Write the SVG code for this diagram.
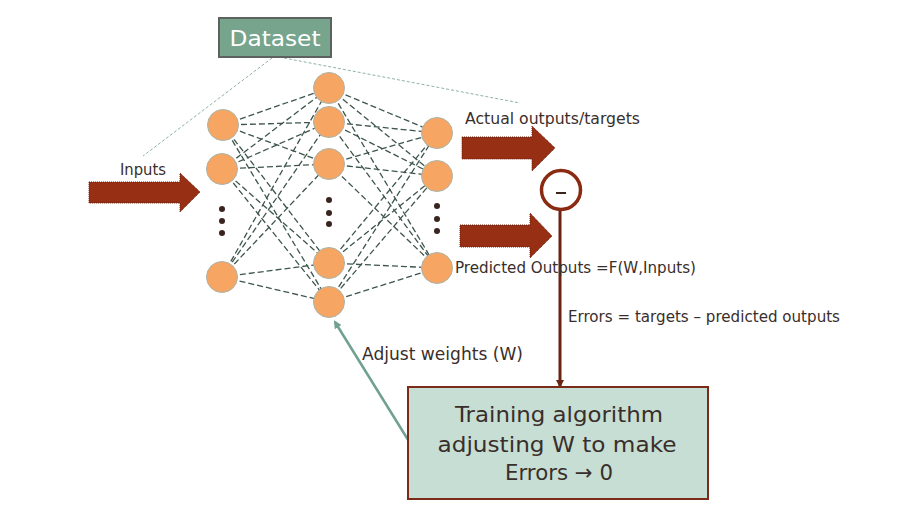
<svg xmlns="http://www.w3.org/2000/svg" width="906" height="516" viewBox="0 0 906 516">
<defs>
<style>
.t{font-family:"DejaVu Sans","Liberation Sans",sans-serif;fill:#3a2e2b;}
.n{fill:#f7a562;stroke:#a9b5ab;stroke-width:1;}
.c{stroke:#3d554c;stroke-width:1.3;stroke-dasharray:6 3;fill:none;}
.ds{stroke:#8fb2a6;stroke-width:1;stroke-dasharray:3 2;fill:none;}
.bigarrow{fill:#962f14;stroke:#6b1e0c;stroke-width:1;stroke-dasharray:1 1;}
.dot{fill:#3a2420;}
</style>
<marker id="ga" markerWidth="8" markerHeight="8" refX="6" refY="4" orient="auto" markerUnits="userSpaceOnUse">
<path d="M0,0 L8,4 L0,8 Z" fill="#6fa090"/>
</marker>
<marker id="ra" markerWidth="8" markerHeight="8" refX="6" refY="4" orient="auto" markerUnits="userSpaceOnUse">
<path d="M0,0 L8,4 L0,8 Z" fill="#6b2412"/>
</marker>
</defs>
<rect width="906" height="516" fill="#ffffff"/>

<g id="connectors">
<line class="ds" x1="272" y1="58" x2="143" y2="156"/>
<line class="ds" x1="284" y1="58" x2="520" y2="103"/>
<line class="c" x1="223" y1="125" x2="329" y2="88"/>
<line class="c" x1="223" y1="125" x2="329" y2="122"/>
<line class="c" x1="223" y1="125" x2="329" y2="164"/>
<line class="c" x1="223" y1="125" x2="329" y2="263"/>
<line class="c" x1="223" y1="125" x2="329" y2="302"/>
<line class="c" x1="222" y1="169" x2="329" y2="88"/>
<line class="c" x1="222" y1="169" x2="329" y2="122"/>
<line class="c" x1="222" y1="169" x2="329" y2="164"/>
<line class="c" x1="222" y1="169" x2="329" y2="263"/>
<line class="c" x1="222" y1="169" x2="329" y2="302"/>
<line class="c" x1="222" y1="277" x2="329" y2="88"/>
<line class="c" x1="222" y1="277" x2="329" y2="122"/>
<line class="c" x1="222" y1="277" x2="329" y2="164"/>
<line class="c" x1="222" y1="277" x2="329" y2="263"/>
<line class="c" x1="222" y1="277" x2="329" y2="302"/>
<line class="c" x1="329" y1="88" x2="437" y2="133"/>
<line class="c" x1="329" y1="88" x2="437" y2="176"/>
<line class="c" x1="329" y1="88" x2="437" y2="268"/>
<line class="c" x1="329" y1="122" x2="437" y2="133"/>
<line class="c" x1="329" y1="122" x2="437" y2="176"/>
<line class="c" x1="329" y1="122" x2="437" y2="268"/>
<line class="c" x1="329" y1="164" x2="437" y2="133"/>
<line class="c" x1="329" y1="164" x2="437" y2="176"/>
<line class="c" x1="329" y1="164" x2="437" y2="268"/>
<line class="c" x1="329" y1="263" x2="437" y2="133"/>
<line class="c" x1="329" y1="263" x2="437" y2="176"/>
<line class="c" x1="329" y1="263" x2="437" y2="268"/>
<line class="c" x1="329" y1="302" x2="437" y2="133"/>
<line class="c" x1="329" y1="302" x2="437" y2="176"/>
<line class="c" x1="329" y1="302" x2="437" y2="268"/>
<line x1="410" y1="443" x2="335" y2="322" stroke="#6fa090" stroke-width="2.5" marker-end="url(#ga)"/>
<line x1="560" y1="210" x2="560" y2="386" stroke="#6b2412" stroke-width="3" marker-end="url(#ra)"/>
</g>

<g id="dataset">
<rect x="219" y="18" width="112" height="39" fill="#76a48c" stroke="#5e625f" stroke-width="2"/>
<text x="275" y="46" text-anchor="middle" font-family="DejaVu Sans, sans-serif" font-size="21" fill="#ffffff" textLength="91" lengthAdjust="spacingAndGlyphs">Dataset</text>
</g>

<g id="input-layer">
<circle class="n" cx="223" cy="125" r="15.5"/>
<circle class="n" cx="222" cy="169" r="15.5"/>
<circle class="dot" cx="222" cy="209" r="3"/>
<circle class="dot" cx="222" cy="221" r="3"/>
<circle class="dot" cx="222" cy="233" r="3"/>
<circle class="n" cx="222" cy="277" r="15.5"/>
</g>

<g id="hidden-layer">
<circle class="n" cx="329" cy="88" r="15.5"/>
<circle class="n" cx="329" cy="122" r="15.5"/>
<circle class="n" cx="329" cy="164" r="15.5"/>
<circle class="dot" cx="329" cy="200" r="3"/>
<circle class="dot" cx="329" cy="213" r="3"/>
<circle class="dot" cx="329" cy="224" r="3"/>
<circle class="n" cx="329" cy="263" r="15.5"/>
<circle class="n" cx="329" cy="302" r="15.5"/>
</g>

<g id="output-layer">
<circle class="n" cx="437" cy="133" r="15.5"/>
<circle class="n" cx="437" cy="176" r="15.5"/>
<circle class="dot" cx="437" cy="206" r="3"/>
<circle class="dot" cx="437" cy="219" r="3"/>
<circle class="dot" cx="437" cy="231" r="3"/>
<circle class="n" cx="437" cy="268" r="15.5"/>
</g>

<g id="inputs-arrow">
<path class="bigarrow" d="M89,182 L180,182 L180,173 L200,192 L180,212 L180,203 L89,203 Z"/>
<text class="t" x="120" y="175" font-size="16" textLength="46" lengthAdjust="spacingAndGlyphs">Inputs</text>
</g>

<g id="actual-arrow">
<path class="bigarrow" d="M462,137 L532,137 L532,126 L555,148 L532,171 L532,159 L462,159 Z"/>
<text class="t" x="465" y="124" font-size="15.5" textLength="175" lengthAdjust="spacingAndGlyphs">Actual outputs/targets</text>
</g>

<g id="predicted-arrow">
<path class="bigarrow" d="M460,225 L530,225 L530,213 L552,236 L530,258 L530,247 L460,247 Z"/>
<text class="t" x="455" y="273" font-size="15.5" textLength="241" lengthAdjust="spacingAndGlyphs">Predicted Outputs =F(W,Inputs)</text>
</g>

<g id="minus">
<circle cx="561" cy="190" r="19.5" fill="#ffffff" stroke="#8a2a12" stroke-width="3.5"/>
<line x1="556" y1="193" x2="566" y2="193" stroke="#3a2420" stroke-width="2"/>
</g>

<g id="errors-label">
<text class="t" x="568" y="322" font-size="15.5" textLength="272" lengthAdjust="spacingAndGlyphs">Errors = targets – predicted outputs</text>
</g>

<g id="adjust-label">
<text class="t" x="362" y="360" font-size="17" textLength="161" lengthAdjust="spacingAndGlyphs">Adjust weights (W)</text>
</g>

<g id="training">
<rect x="408" y="387" width="300" height="112" fill="#c6ded4" stroke="#7a2b1a" stroke-width="2"/>
<text class="t" x="559" y="422" font-size="22" text-anchor="middle" textLength="208" lengthAdjust="spacingAndGlyphs">Training algorithm</text>
<text class="t" x="557" y="452" font-size="22" text-anchor="middle" textLength="239" lengthAdjust="spacingAndGlyphs">adjusting W to make</text>
<text class="t" x="559" y="480" font-size="22" text-anchor="middle" textLength="108" lengthAdjust="spacingAndGlyphs">Errors → 0</text>
</g>
</svg>
